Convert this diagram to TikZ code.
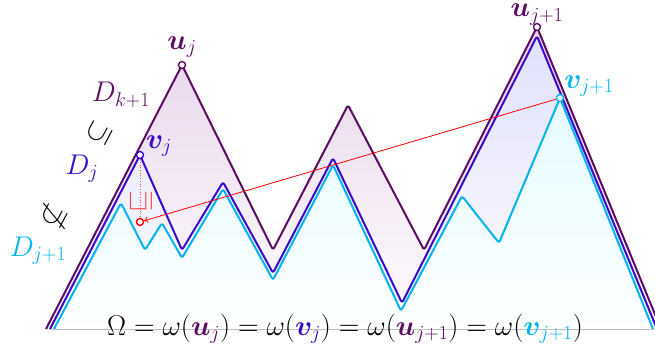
\RequirePackage{fix-cm}
\documentclass[tikz,border=0pt]{standalone}
\usepackage{amsmath,amssymb,bm}
\usetikzlibrary{arrows.meta}
\definecolor{dkp}{RGB}{92,12,98}
\definecolor{ind}{RGB}{55,10,205}
\definecolor{cyn}{RGB}{0,180,240}
\definecolor{lred}{RGB}{255,70,70}
\definecolor{fdkT}{RGB}{232,212,234}
\definecolor{fdkB}{RGB}{255,253,255}
\definecolor{finT}{RGB}{224,224,252}
\definecolor{finB}{RGB}{254,254,255}
\definecolor{fcyT}{RGB}{228,251,255}
\definecolor{fcyB}{RGB}{254,255,255}
\begin{document}
\begin{tikzpicture}[x=1pt,y=-1pt,
  lbl/.style={font=\fontsize{28.5}{34}\selectfont, inner sep=0pt},
  pathline/.style={line width=2pt, rounded corners=2.5pt, line join=round},
  dotc/.style={circle, draw, fill=white, line width=1.4pt, minimum size=7pt, inner sep=0pt},
]
\useasboundingbox (0,0) rectangle (655,349);
% fills
\fill[rounded corners=2.5pt, top color=fdkT, bottom color=fdkB]
  (46,329) -- (182,65) -- (273,250) -- (348,105) -- (424,250) -- (537,27) -- (661,329) -- cycle;
\fill[rounded corners=2.5pt, top color=finT, bottom color=finB]
  (50,329) -- (140,155) -- (182,250) -- (223,182) -- (273,273) -- (333,158) -- (402,303) -- (537,36) -- (657,329) -- cycle;
\fill[rounded corners=2.5pt, top color=fcyT, bottom color=fcyB]
  (54,329) -- (121,203) -- (145,250) -- (162,223) -- (182,258) -- (223,189) -- (273,280) -- (333,165) -- (401,311) -- (462,196) -- (499,243) -- (560,98) -- (653,329) -- cycle;
% lines
\draw[pathline, dkp]
  (46,329) -- (182,65) -- (273,250) -- (348,105) -- (424,250) -- (537,27) -- (661,329);
\draw[pathline, ind]
  (50,329) -- (140,155) -- (182,250) -- (223,182) -- (273,273) -- (333,158) -- (402,303) -- (537,36) -- (657,329);
\draw[pathline, cyn]
  (54,329) -- (121,203) -- (145,250) -- (162,223) -- (182,258) -- (223,189) -- (273,280) -- (333,165) -- (401,311) -- (462,196) -- (499,243) -- (560,98) -- (653,329);
% markers
\node[dotc, draw=dkp] (uj) at (182,65) {};
\node[dotc, draw=ind] (vj) at (140,155) {};
\node[dotc, draw=dkp] (uj1) at (537,27) {};
\node[dotc, draw=cyn] (vj1) at (560,98) {};
\node[dotc, draw=red] (rc) at (140,222) {};
\draw[lred, dotted, line width=0.7pt] (vj) -- (rc);
\draw[red, line width=0.8pt, -{To[length=4pt,width=6pt]}] (vj1) -- (rc);
% labels
\node[lbl, text=dkp] (Luj) at (182,47) {$\bm{u}_j$};
\node[lbl, text=ind] (Lvj) at (159,146) {$\bm{v}_j$};
\node[lbl, text=dkp] (Luj1) at (537,14.5) {$\bm{u}_{j+1}$};
\node[lbl, text=cyn] (Lvj1) at (589,86) {$\bm{v}_{j+1}$};
\node[lbl, text=dkp] (Dk) at (121,95) {$D_{k+1}$};
\node[lbl, rotate=62] (s1) at (99,133) {$\subseteq$};
\node[lbl, text=ind] (Dj) at (82,169) {$D_j$};
\node[lbl, rotate=62] (s2) at (55,216) {$\nsubseteq$};
\node[lbl, text=cyn] (Dj1) at (38,251) {$D_{j+1}$};
\node[lbl, text=lred, rotate=90] (s3) at (141,201) {$\sqsubseteq$};
\node[lbl] (eq) at (345,329) {$\Omega = \omega({\color{dkp}\bm{u}_j}) = \omega({\color{ind}\bm{v}_j}) = \omega({\color{dkp}\bm{u}_{j+1}}) = \omega({\color{cyn}\bm{v}_{j+1}})$};
\end{tikzpicture}
\end{document}
